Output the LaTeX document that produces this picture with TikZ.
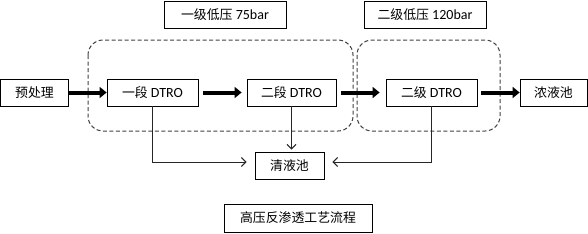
\documentclass[tikz,border=0pt]{standalone}
\usepackage{fontspec}
\setmainfont{Carlito}
\newfontfamily\cjk[Scale=0.92]{Noto Sans CJK SC}
\usetikzlibrary{arrows.meta}
\tikzset{
  box/.style={draw=black, line width=0.8pt, minimum height=27pt, inner sep=0pt, font=\fontsize{14}{16}\selectfont},
  group/.style={draw=black!75, dashed, dash pattern=on 4pt off 2.5pt, line width=1pt, rounded corners=15pt},
  thick arrow/.style={line width=4pt, -{Triangle[length=7pt,width=11pt]}},
  thin arrow/.style={draw=black!85, line width=1pt, -{Straight Barb[length=4.5pt,width=9pt]}}
}
\begin{document}
\begin{tikzpicture}[x=1pt,y=-1pt]
\useasboundingbox (0,0) rectangle (588,233);
\node[box, minimum width=68pt] (pre) at (34.5,92.5) {\cjk 预处理};
\node[box, minimum width=91pt] (d1) at (152.5,92.5) {{\cjk 一段} DTRO};
\node[box, minimum width=89pt] (d2) at (291.5,92.5) {{\cjk 二段} DTRO};
\node[box, minimum width=91pt] (d3) at (431.5,92.5) {{\cjk 二级} DTRO};
\node[box, minimum width=67pt] (nong) at (553.5,92.5) {\cjk 浓液池};
\node[box, minimum width=122pt] (l1) at (225,14.5) {{\cjk 一级低压} 75bar};
\node[box, minimum width=122pt] (l2) at (425,14.5) {{\cjk 二级低压} 120bar};
\node[box, minimum width=69pt] (qing) at (289.5,165.5) {\cjk 清液池};
\node[box, minimum width=148pt, minimum height=28pt] (title) at (298,218) {\cjk 高压反渗透工艺流程};
\draw[group] (88,40) rectangle (353,131);
\draw[group] (357,40) rectangle (500,131);
\draw[thick arrow] (pre.east) -- (d1.west);
\draw[thick arrow, shorten <=5pt, shorten >=5pt] (d1.east) -- (d2.west);
\draw[thick arrow, shorten <=5pt, shorten >=6pt] (d2.east) -- (d3.west);
\draw[thick arrow, shorten <=4pt] (d3.east) -- (nong.west);
\draw[thin arrow, shorten >=8pt] (d1.south) |- ([yshift=3.5pt]qing.west);
\draw[thin arrow, shorten >=2pt] (d2.south) -- (d2.south |- qing.north);
\draw[thin arrow, shorten >=8pt] (d3.south) |- ([yshift=3.5pt]qing.east);
\end{tikzpicture}
\end{document}
